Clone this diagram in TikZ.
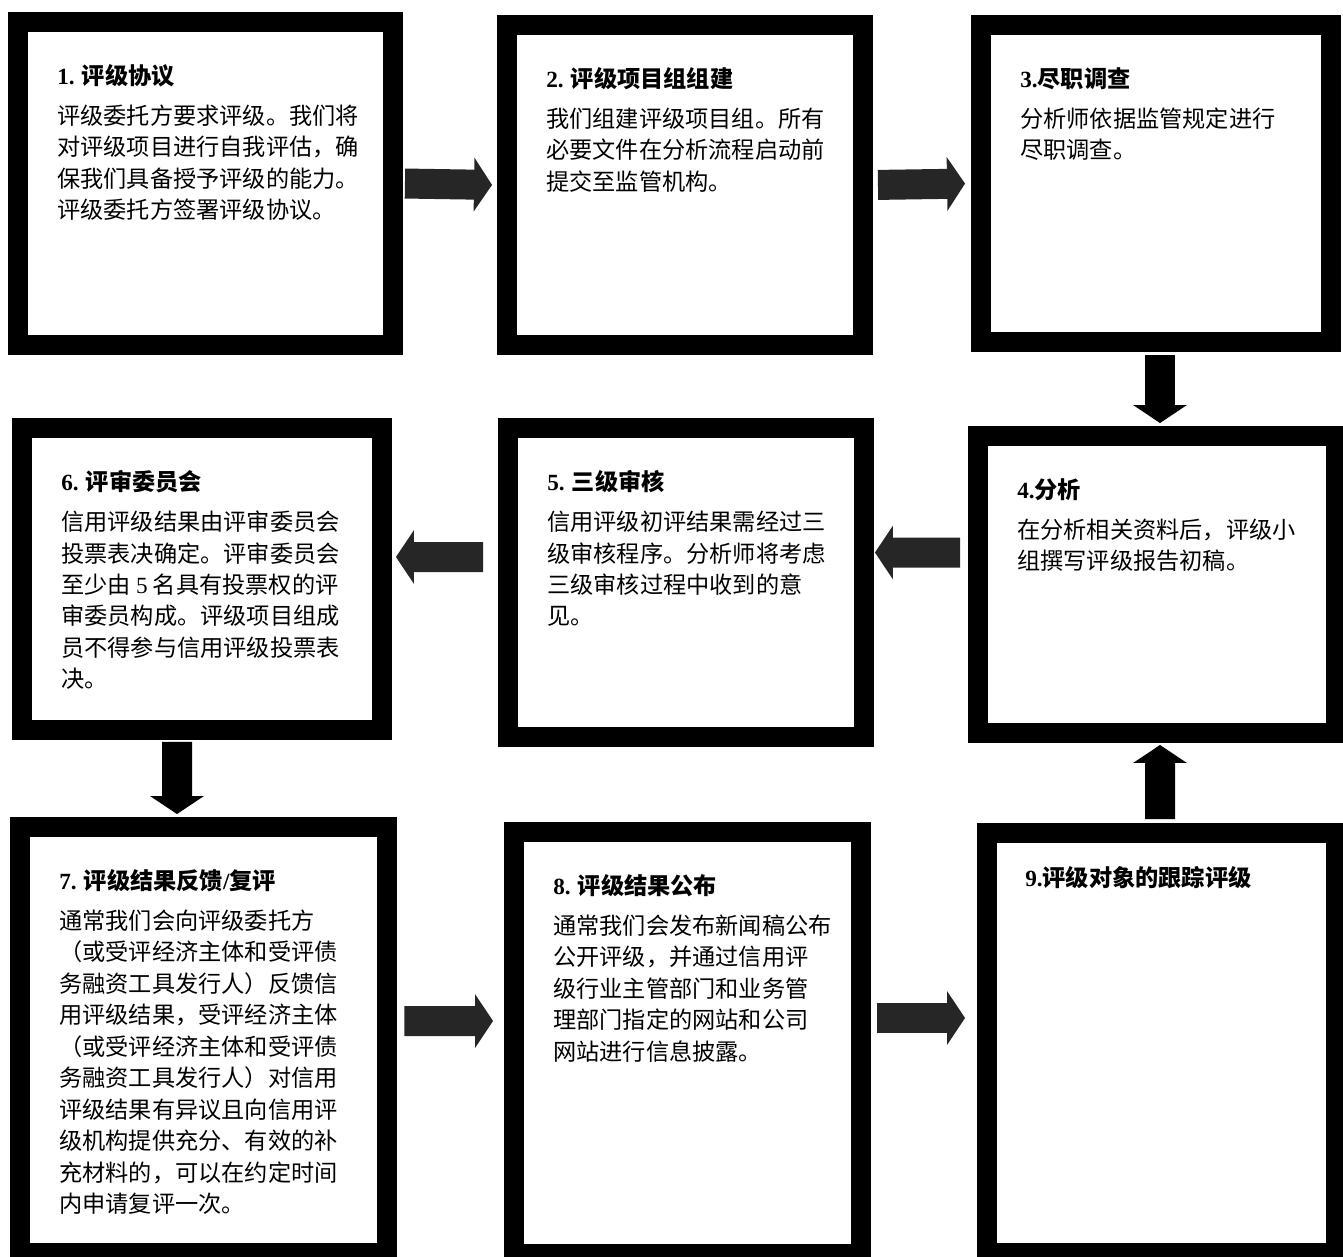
\documentclass[tikz,border=0pt]{standalone}
\usepackage{fontspec}
\setmainfont{Noto Sans CJK SC}
\newfontfamily\numfont{Liberation Serif}
\usetikzlibrary{arrows.meta}
\begin{document}
\begin{tikzpicture}[x=0.02cm,y=-0.02cm,
  ruutu/.style={draw, line width=0.4cm, inner sep=0pt},
  teksti/.style={anchor=north west, inner sep=0pt, align=left, font=\fontsize{13.2pt}{17.9pt}\selectfont},
  nuoli/.style={line width=0.6cm, -{Triangle[width=1.06cm,length=0.36cm]}, black!85}]
\useasboundingbox (0,0) rectangle (1343,1257);
\newcommand\ruutu[6]{
\node[ruutu, minimum width=#4cm, minimum height=#5cm] (#1) at (#2,#3) {};
\node[teksti] (t#1) at ([shift={(49,52)}]#1.north west) {#6};
}
\ruutu{b1}{205.5}{183.5}{7.5}{6.46}{{\bfseries{\numfont 1.} 评级协议}\\[4.9pt]
评级委托方要求评级。我们将\\
对评级项目进行自我评估，确\\
保我们具备授予评级的能力。\\
评级委托方签署评级协议。}
\ruutu{b2}{685}{185}{7.12}{6.4}{{\bfseries{\numfont 2.} 评级项目组组建}\\[4.9pt]
我们组建评级项目组。所有\\
必要文件在分析流程启动前\\
提交至监管机构。}
\ruutu{b3}{1156}{183.5}{7.0}{6.34}{{\bfseries{\numfont 3.}尽职调查}\\[4.9pt]
分析师依据监管规定进行\\
尽职调查。}
\ruutu{b4}{1157}{584.5}{7.16}{5.94}{{\bfseries{\numfont 4.}分析}\\[4.9pt]
在分析相关资料后，评级小\\
组撰写评级报告初稿。}
\ruutu{b5}{686}{582.5}{7.12}{6.18}{{\bfseries{\numfont 5.} 三级审核}\\[4.9pt]
信用评级初评结果需经过三\\
级审核程序。分析师将考虑\\
三级审核过程中收到的意\\
见。}
\ruutu{b6}{202}{579}{7.2}{6.04}{{\bfseries{\numfont 6.} 评审委员会}\\[4.9pt]
信用评级结果由评审委员会\\
投票表决确定。评审委员会\\
至少由 {\numfont 5} 名具有投票权的评\\
审委员构成。评级项目组成\\
员不得参与信用评级投票表\\
决。}
\ruutu{b7}{203.5}{1040}{7.34}{8.52}{{\bfseries{\numfont 7.} 评级结果反馈{\numfont /}复评}\\[4.9pt]
通常我们会向评级委托方\\
（或受评经济主体和受评债\\
务融资工具发行人）反馈信\\
用评级结果，受评经济主体\\
（或受评经济主体和受评债\\
务融资工具发行人）对信用\\
评级结果有异议且向信用评\\
级机构提供充分、有效的补\\
充材料的，可以在约定时间\\
内申请复评一次。}
\ruutu{b8}{687.5}{1043}{6.94}{8.44}{{\bfseries{\numfont 8.} 评级结果公布}\\[4.9pt]
通常我们会发布新闻稿公布\\
公开评级，并通过信用评\\
级行业主管部门和业务管\\
理部门指定的网站和公司\\
网站进行信息披露。}
\node[ruutu, minimum width=6.98cm, minimum height=8.4cm] (b9) at (1161.5,1043) {};
\node[teksti] (tb9) at ([shift={(48,43)}]b9.north west) {{\bfseries{\numfont 9.}评级对象的跟踪评级}};
% nuolet
\draw[nuoli, shorten <=0.04cm, shorten >=0.1cm] (b1.east) -- (b2.west);
\draw[nuoli, shorten <=0.1cm, shorten >=0.12cm] (b2.east) -- (b3.west);
\draw[nuoli, black, shorten <=0.06cm, shorten >=0.06cm] ([xshift=0.08cm]b3.south) -- ([xshift=0.06cm]b4.north);
\draw[nuoli, shorten <=0.16cm, shorten >=0.02cm] ([yshift=0.64cm]b4.west) -- ([yshift=0.6cm]b5.east);
\draw[nuoli, shorten <=0.3cm, shorten >=0.08cm] ([yshift=0.51cm]b5.west) -- ([yshift=0.44cm]b6.east);
\draw[nuoli, black, shorten <=0.04cm, shorten >=0.06cm] ([xshift=-0.5cm]b6.south) -- ([xshift=-0.53cm]b7.north);
\draw[nuoli, shorten <=0.15cm, shorten >=0.22cm] ([yshift=0.38cm]b7.east) -- ([yshift=0.44cm]b8.west);
\draw[nuoli, shorten <=0.12cm, shorten >=0.24cm] ([yshift=0.5cm]b8.east) -- ([yshift=0.5cm]b9.west);
\draw[nuoli, black, shorten <=0.08cm, shorten >=0.04cm] ([xshift=-0.03cm]b9.north) -- ([xshift=0.06cm]b4.south);
\end{tikzpicture}
\end{document}
